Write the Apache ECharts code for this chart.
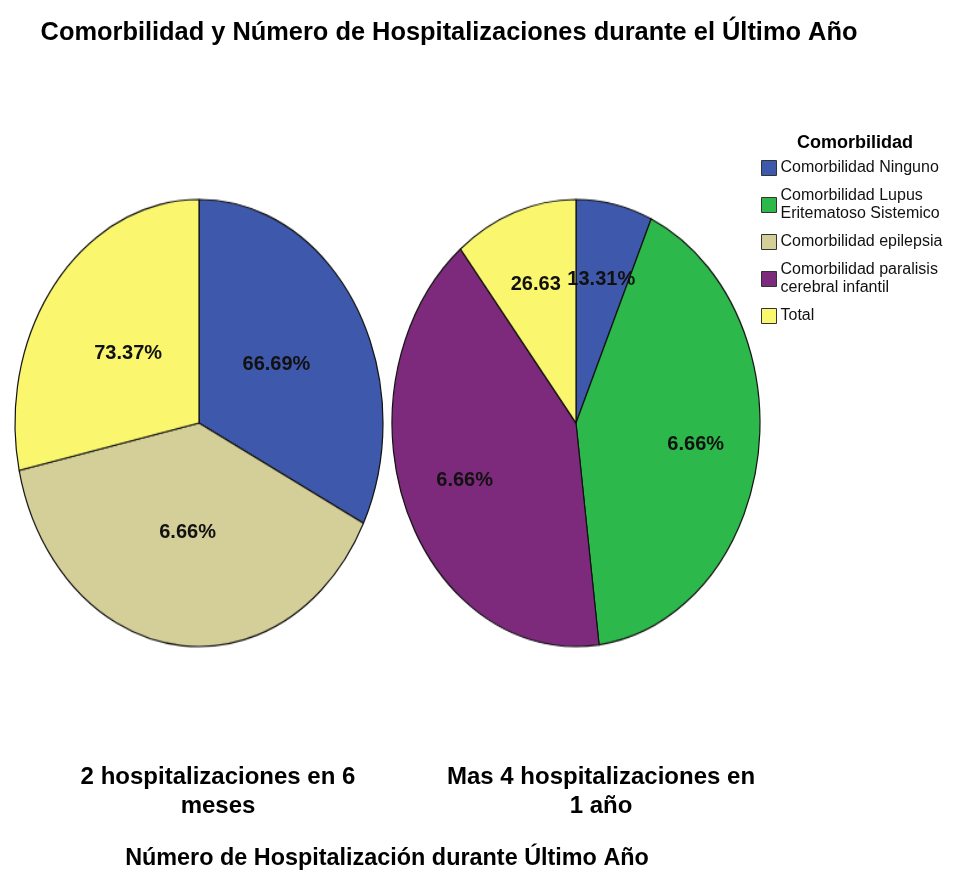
<!DOCTYPE html>
<html>
<head>
<meta charset="utf-8">
<script src="https://cdn.jsdelivr.net/npm/echarts@6/dist/echarts.min.js"></script>
<style>
  body { margin: 0; background: #fff; }
  #wrap { position: relative; width: 955px; height: 875px; }
  #pies, #main { position: absolute; left: 0; top: 0; width: 955px; height: 875px; }
  /* SPSS draws the pies stretched vertically */
  #pies { transform-origin: 0 423px; transform: scaleY(1.215); }
</style>
</head>
<body>
<div id="wrap">
  <div id="pies"></div>
  <div id="main"></div>
</div>
<script>
// categorias (comorbilidad) y colores
const categories = ['Comorbilidad Ninguno', 'Comorbilidad Lupus Eritematoso Sistemico', 'Comorbilidad epilepsia', 'Comorbilidad paralisis cerebral infantil', 'Total'];
const legendText = ['Comorbilidad Ninguno', 'Comorbilidad Lupus\nEritematoso Sistemico', 'Comorbilidad epilepsia', 'Comorbilidad paralisis\ncerebral infantil', 'Total'];
const colors = ['#3e58ab', '#2db84b', '#d4cf98', '#7d2a7c', '#faf76f'];

// grupos de hospitalizacion
const groups = ['2 hospitalizaciones en 6\nmeses', 'Mas 4 hospitalizaciones en\n1 año'];

// pie izquierdo
const leftNames = ['Comorbilidad Ninguno', 'Comorbilidad epilepsia', 'Total'];
const leftValues = [32.4, 39.2, 28.4];
const leftLabels = ['66.69%', '6.66%', '73.37%'];

// pie derecho
const rightNames = ['Comorbilidad Ninguno', 'Comorbilidad Lupus Eritematoso Sistemico', 'Comorbilidad paralisis cerebral infantil', 'Total'];
const rightValues = [6.7, 41.3, 41.2, 10.8];
const rightLabels = ['13.31%', '6.66%', '6.66%', '26.63'];

const SCALE = 1.215;
const CY = 423;
const R = 184;
const centers = [[199, CY], [576, CY]];

function colorOf(name) {
  return colors[categories.indexOf(name)];
}
function pieData(names, values, transparent) {
  return names.map((n, i) => ({
    name: n,
    value: values[i],
    itemStyle: { color: transparent ? 'transparent' : colorOf(n) }
  }));
}

// capa de los pies (escalada)
const pieChart = echarts.init(document.getElementById('pies'));
pieChart.setOption({
  animation: false,
  series: [
    { data: pieData(leftNames, leftValues), center: centers[0] },
    { data: pieData(rightNames, rightValues), center: centers[1] }
  ].map(s => ({
    type: 'pie',
    silent: true,
    radius: [0, R],
    center: s.center,
    startAngle: 90,
    label: { show: false },
    labelLine: { show: false },
    itemStyle: { borderColor: '#111', borderWidth: 1.2 },
    data: s.data
  }))
});

// capa de textos
const labelFont = {
  color: '#111',
  fontFamily: '"Liberation Sans", Arial, sans-serif',
  fontWeight: 'bold',
  fontSize: 20
};
function labelPie(names, values, labels, center, radius) {
  return {
    type: 'pie',
    silent: true,
    radius: [0, radius],
    center: center,
    startAngle: 90,
    itemStyle: { color: 'transparent' },
    labelLine: { show: false },
    label: Object.assign({
      show: true,
      position: 'inside',
      formatter: p => labels[p.dataIndex]
    }, labelFont),
    labelLayout: p => {
      const midY = p.labelRect.y + p.labelRect.height / 2;
      return { dy: (midY - CY) * (SCALE - 1) };
    },
    data: pieData(names, values, true)
  };
}

const boldText = {
  color: '#000',
  fontFamily: '"Liberation Sans", Arial, sans-serif',
  fontWeight: 'bold'
};

const chart = echarts.init(document.getElementById('main'));
chart.setOption({
  animation: false,
  title: [
    {
      text: 'Comorbilidad y Número de Hospitalizaciones durante el Último Año',
      left: 449, top: 20, textAlign: 'center', padding: 0,
      textStyle: Object.assign({ fontSize: 25.4 }, boldText)
    },
    {
      text: 'Comorbilidad',
      left: 855, top: 134, textAlign: 'center', padding: 0,
      textStyle: Object.assign({ fontSize: 18 }, boldText)
    },
    {
      text: groups[0],
      left: 218, top: 763, textAlign: 'center', padding: 0,
      textStyle: Object.assign({ fontSize: 24, lineHeight: 29, align: 'center' }, boldText)
    },
    {
      text: groups[1],
      left: 601, top: 763, textAlign: 'center', padding: 0,
      textStyle: Object.assign({ fontSize: 24, lineHeight: 29, align: 'center' }, boldText)
    },
    {
      text: 'Número de Hospitalización durante Último Año',
      left: 387, top: 847, textAlign: 'center', padding: 0,
      textStyle: Object.assign({ fontSize: 23.4 }, boldText)
    }
  ],
  legend: {
    orient: 'vertical',
    left: 761,
    top: 159,
    padding: 0,
    itemGap: 10,
    itemWidth: 15,
    itemHeight: 15,
    icon: 'rect',
    selectedMode: false,
    data: categories.map((c, i) => ({
      name: c,
      itemStyle: { color: colors[i], borderColor: '#333', borderWidth: 1, opacity: 1 }
    })),
    formatter: name => legendText[categories.indexOf(name)],
    textStyle: {
      color: '#111',
      fontFamily: '"Liberation Sans", Arial, sans-serif',
      fontSize: 16,
      lineHeight: 18,
      padding: [0, 0, 0, -1]
    }
  },
  series: [
    labelPie(leftNames, leftValues, leftLabels, centers[0], 176),
    labelPie(rightNames, rightValues, rightLabels, centers[1], 236)
  ]
});
</script>
</body>
</html>
